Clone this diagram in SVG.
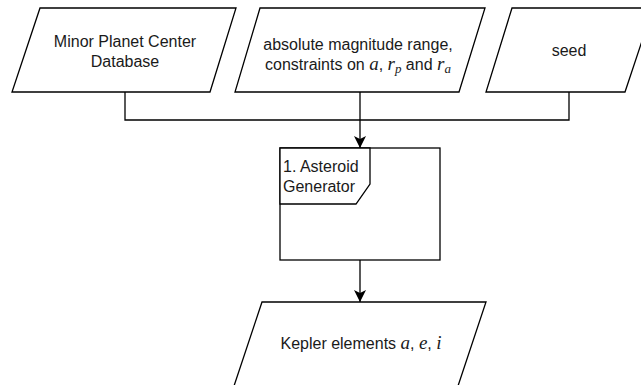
<svg xmlns="http://www.w3.org/2000/svg" width="641" height="385" viewBox="0 0 641 385">
<style>
.s{fill:#fff;stroke:#000;stroke-width:1.3}
.c{fill:none;stroke:#000;stroke-width:1.3}
.t{font-family:"Liberation Sans",Arial,sans-serif;font-size:16px;fill:#1a1a1a}
.m{font-family:"Liberation Serif","Times New Roman",serif;font-style:italic;font-size:19px}
.ms{font-family:"Liberation Serif","Times New Roman",serif;font-style:italic;font-size:13px}
</style>
<defs>
<marker id="arr" viewBox="0 0 12 12" refX="12" refY="6" markerWidth="12" markerHeight="12" markerUnits="userSpaceOnUse" orient="auto">
<path d="M0,0 L12,6 L0,12 L3,6 z" fill="#000"/>
</marker>
</defs>
<g id="connectors">
<path class="c" d="M125,92 V120 H569 V92"/>
<path class="c" d="M360,92 V148" marker-end="url(#arr)"/>
<path class="c" d="M360,260 V302" marker-end="url(#arr)"/>
</g>
<g id="mpc">
<polygon class="s" points="40,8 236,8 210,92 12,92"/>
<text class="t" text-anchor="middle"><tspan x="125" y="46.5">Minor Planet Center</tspan><tspan x="125" y="66.5">Database</tspan></text>
</g>
<g id="constraints">
<polygon class="s" points="260,8 485,8 459,92 235,92"/>
<text class="t" text-anchor="middle" x="358" y="50">absolute magnitude range,</text>
<text class="t" text-anchor="middle" x="358" y="70">constraints on <tspan class="m">a</tspan>, <tspan class="m">r</tspan><tspan class="ms" dy="3">p</tspan><tspan dy="-3"> and </tspan><tspan class="m">r</tspan><tspan class="ms" dy="3">a</tspan></text>
</g>
<g id="seed">
<polygon class="s" points="512,8 653,8 625,92 486,92"/>
<text class="t" text-anchor="middle" x="569" y="55.5">seed</text>
</g>
<g id="generator">
<rect class="s" x="280" y="148" width="160" height="112"/>
<path class="s" d="M280,148 H370 V184 L356,204 H280 Z"/>
<text class="t"><tspan x="283" y="172">1. Asteroid</tspan><tspan x="283" y="192">Generator</tspan></text>
</g>
<g id="kepler">
<polygon class="s" points="262,302 486,302 458,386 234,386"/>
<text class="t" text-anchor="middle" x="361" y="349">Kepler elements <tspan class="m">a</tspan>, <tspan class="m">e</tspan>, <tspan class="m">i</tspan></text>
</g>
</svg>
